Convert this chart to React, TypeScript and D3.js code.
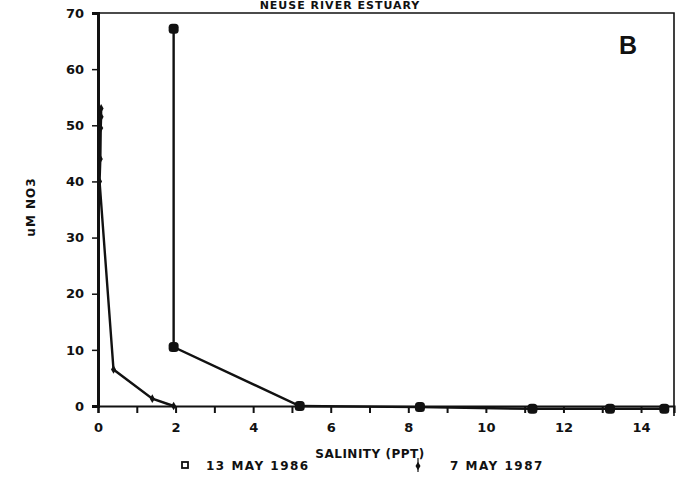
import React, { useEffect, useRef } from 'react';
import * as d3 from 'd3';

// salinity (ppt) vs nitrate (uM)
const salinity1986 = [1.95, 1.95, 5.2, 8.3, 11.2, 13.2, 14.6];
const no3_1986 = [67.2, 10.5, 0, -0.2, -0.5, -0.5, -0.5];
const salinity1987 = [0.08, 0.08, 0.07, 0.06, 0.04, 0.4, 1.4, 1.95];
const no3_1987 = [53, 51.5, 49.5, 44, 40, 6.5, 1.3, 0];
const xTicks = [0, 2, 4, 6, 8, 10, 12, 14];
const xMinorTicks = d3.range(0, 15, 1);
const yTicks = [0, 10, 20, 30, 40, 50, 60, 70];
const legendLabels = ['13 MAY 1986', '7 MAY 1987'];

const W = 684, H = 479;
const margin = { left: 98, right: 10, top: 13, bottom: 73 };
const FONT = '"DejaVu Sans", sans-serif';

export default function App() {
    const ref = useRef<SVGSVGElement>(null);

    useEffect(() => {
        if (!ref.current) return;
        const svg = d3.select(ref.current);
        svg.selectAll('*').remove();

        const x = d3.scaleLinear().domain([0, 14.85]).range([margin.left, W - margin.right]);
        const y = d3.scaleLinear().domain([0, 70]).range([H - margin.bottom, margin.top]);

        const ink = '#111';

        // frame (top + right)
        svg.append('path')
            .attr('d', `M${x(0)},${y(70)}H${x(14.85)}V${y(0) + 10}`)
            .attr('fill', 'none').attr('stroke', ink).attr('stroke-width', 1.6);

        // y axis
        const yAxis = svg.append('g')
            .attr('transform', `translate(${x(0)},0)`)
            .call(d3.axisLeft(y).tickValues(yTicks).tickSize(6).tickPadding(8));
        yAxis.select('.domain').attr('stroke', ink).attr('stroke-width', 3);
        yAxis.selectAll('.tick line').attr('stroke', ink).attr('stroke-width', 1.5);
        yAxis.selectAll('.tick text')
            .attr('font-family', FONT).attr('font-weight', 'bold').attr('font-size', 13).attr('fill', ink);

        // x axis: minor ticks every unit, labels on even
        const xAxis = svg.append('g')
            .attr('transform', `translate(0,${y(0)})`)
            .call(d3.axisBottom(x).tickValues(xMinorTicks).tickSize(7).tickPadding(10)
                .tickFormat(d => xTicks.includes(+d) ? String(d) : ''));
        xAxis.select('.domain').attr('stroke', ink).attr('stroke-width', 2.2);
        xAxis.selectAll('.tick line').attr('stroke', ink).attr('stroke-width', 2);
        xAxis.selectAll('.tick text')
            .attr('font-family', FONT).attr('font-weight', 'bold').attr('font-size', 13).attr('fill', ink);

        const line = d3.line<[number, number]>().x(d => x(d[0])).y(d => y(d[1]));
        const s86 = salinity1986.map((s, i) => [s, no3_1986[i]] as [number, number]);
        const s87 = salinity1987.map((s, i) => [s, no3_1987[i]] as [number, number]);

        svg.append('path').datum(s87).attr('d', line)
            .attr('fill', 'none').attr('stroke', ink).attr('stroke-width', 2.4);
        svg.append('path').datum(s86).attr('d', line)
            .attr('fill', 'none').attr('stroke', ink).attr('stroke-width', 2.4);

        svg.append('g').selectAll('rect').data(s86).join('rect')
            .attr('x', d => x(d[0]) - 5).attr('y', d => y(d[1]) - 5)
            .attr('width', 10).attr('height', 10).attr('rx', 3.5)
            .attr('fill', ink);

        svg.append('g').selectAll('path').data(s87).join('path')
            .attr('transform', d => `translate(${x(d[0])},${y(d[1])})`)
            .attr('d', d3.symbol(d3.symbolDiamond, 22))
            .attr('fill', ink);

        // title (cut off at the top of the scan)
        svg.append('text')
            .attr('x', 340).attr('y', 9)
            .attr('text-anchor', 'middle')
            .attr('font-family', FONT).attr('font-weight', 'bold').attr('font-size', 11)
            .attr('letter-spacing', 1)
            .attr('fill', ink)
            .text('NEUSE RIVER ESTUARY');

        svg.append('text')
            .attr('x', 628).attr('y', 54)
            .attr('text-anchor', 'middle')
            .attr('font-family', '"Liberation Sans Narrow", "Liberation Sans", sans-serif')
            .attr('font-weight', 'bold').attr('font-size', 25)
            .attr('fill', ink)
            .text('B');

        // axis titles
        svg.append('text')
            .attr('transform', `translate(35,207) rotate(-90)`)
            .attr('text-anchor', 'middle')
            .attr('font-family', FONT).attr('font-weight', 'bold').attr('font-size', 12)
            .attr('letter-spacing', 1)
            .attr('fill', ink)
            .text('uM NO3');

        svg.append('text')
            .attr('x', 370).attr('y', 458)
            .attr('text-anchor', 'middle')
            .attr('font-family', FONT).attr('font-weight', 'bold').attr('font-size', 12)
            .attr('letter-spacing', 0.5)
            .attr('fill', ink)
            .text('SALINITY (PPT)');

        // legend
        const legend = svg.append('g')
            .attr('font-family', FONT).attr('font-weight', 'bold').attr('font-size', 12)
            .attr('letter-spacing', 1.5).attr('fill', ink);
        legend.append('rect')
            .attr('x', 182).attr('y', 462).attr('width', 6).attr('height', 6)
            .attr('fill', 'none').attr('stroke', ink).attr('stroke-width', 1.8);
        legend.append('text').attr('x', 206).attr('y', 470).text(legendLabels[0]);
        legend.append('path')
            .attr('transform', 'translate(418,466)')
            .attr('d', d3.symbol(d3.symbolDiamond, 22))
            .attr('fill', ink);
        legend.append('path')
            .attr('d', 'M418,458V472').attr('stroke', ink).attr('stroke-width', 1.2);
        legend.append('text').attr('x', 450).attr('y', 470).text(legendLabels[1]);
    }, []);

    return (
        <svg ref={ref} width={W} height={H}
            style={{ position: 'absolute', left: 0, top: 0, background: '#fff' }} />
    );
}
